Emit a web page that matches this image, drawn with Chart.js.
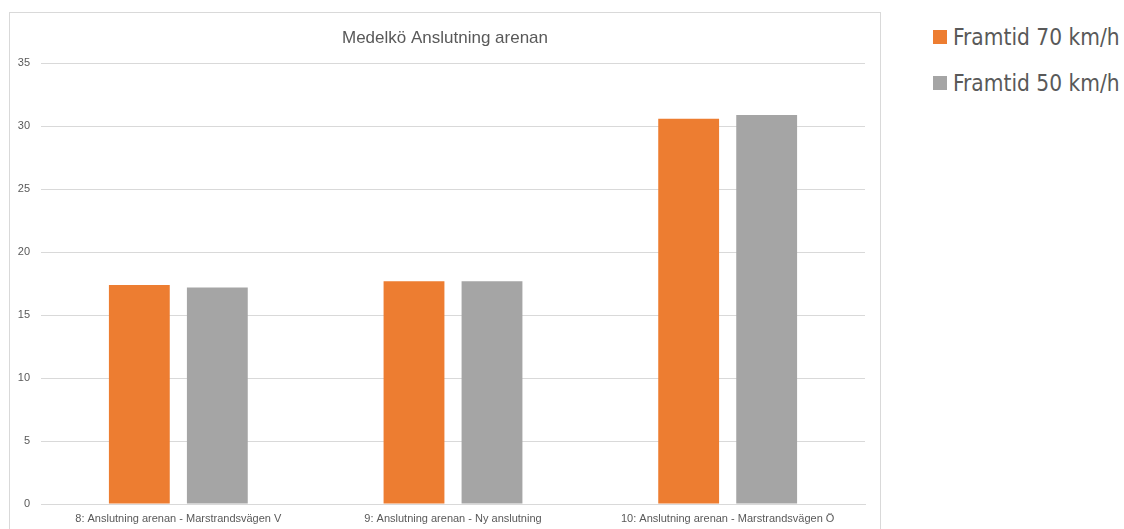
<!DOCTYPE html>
<html>
<head>
<meta charset="utf-8">
<script src="https://cdn.jsdelivr.net/npm/chart.js@4/dist/chart.umd.min.js"></script>
<style>
  html, body { margin: 0; padding: 0; background: #fff; overflow: hidden; }
  body { width: 1124px; height: 529px; position: relative; }
  #frame {
    position: absolute; left: 9px; top: 12px;
    width: 870px; height: 530px;
    border: 1px solid #d9d9d9;
  }
  #frame canvas { display: block; }
  #legend {
    position: absolute; left: 933px; top: 23px;
    font-family: "DejaVu Sans Condensed", "DejaVu Sans", sans-serif;
    font-size: 22.5px; color: #595959;
  }
  .leg-item { display: flex; align-items: center; height: 28px; margin-bottom: 18px; white-space: nowrap; }
  .leg-box { width: 14px; height: 14px; margin-right: 6px; }
</style>
</head>
<body>
<div id="frame"><canvas id="chart" width="870" height="517"></canvas></div>
<div id="legend"></div>
<script>
const TITLE = "Medelkö Anslutning arenan";
const CATEGORIES = [
  "8: Anslutning arenan - Marstrandsvägen V",
  "9: Anslutning arenan - Ny anslutning",
  "10: Anslutning arenan - Marstrandsvägen Ö",
];
const SERIES_NAMES = ["Framtid 70 km/h", "Framtid 50 km/h"];
const FRAMTID_70 = [17.4, 17.7, 30.6];
const FRAMTID_50 = [17.2, 17.7, 30.9];
const COLORS = ["#ed7d31", "#a5a5a5"];
const Y_MAX = 35;
const Y_STEP = 5;

const FONT = "'Liberation Sans', Arial, sans-serif";
const TEXT = "#595959";
const GRID = "#d9d9d9";

new Chart(document.getElementById("chart"), {
  type: "bar",
  data: {
    labels: CATEGORIES,
    datasets: [
      { label: SERIES_NAMES[0], data: FRAMTID_70, backgroundColor: COLORS[0] },
      { label: SERIES_NAMES[1], data: FRAMTID_50, backgroundColor: COLORS[1] },
    ],
  },
  options: {
    responsive: false,
    animation: false,
    layout: { padding: 0 },
    datasets: {
      bar: { categoryPercentage: 0.568, barPercentage: 0.78 },
    },
    plugins: {
      legend: { display: false },
      tooltip: { enabled: false },
      title: {
        display: true,
        text: TITLE,
        color: TEXT,
        font: { family: FONT, size: 17, weight: "normal" },
        padding: { top: 15, bottom: 15 },
      },
    },
    scales: {
      x: {
        grid: { display: false, drawTicks: false },
        border: { display: true, color: GRID },
        ticks: {
          color: TEXT,
          font: { family: FONT, size: 11 },
          padding: 8,
          maxRotation: 0,
          autoSkip: false,
        },
        afterFit: (s) => { s.height = 26; },
      },
      y: {
        min: 0,
        max: Y_MAX,
        grid: { color: GRID, drawTicks: false },
        border: { display: false },
        ticks: {
          stepSize: Y_STEP,
          color: TEXT,
          font: { family: FONT, size: 11 },
          padding: 11,
        },
        afterFit: (s) => { s.width = 31; },
      },
      // empty right-hand spacer so the plot stops short of the frame
      ySpacer: {
        position: "right",
        min: 0,
        max: Y_MAX,
        grid: { display: false, drawTicks: false },
        border: { display: false },
        ticks: { display: false },
        afterFit: (s) => { s.width = 15; },
      },
    },
  },
});

document.getElementById("legend").innerHTML = SERIES_NAMES.map((name, i) => `
  <div class="leg-item"><span class="leg-box" style="background:${COLORS[i]}"></span>${name}</div>
`).join("");
</script>
</body>
</html>
